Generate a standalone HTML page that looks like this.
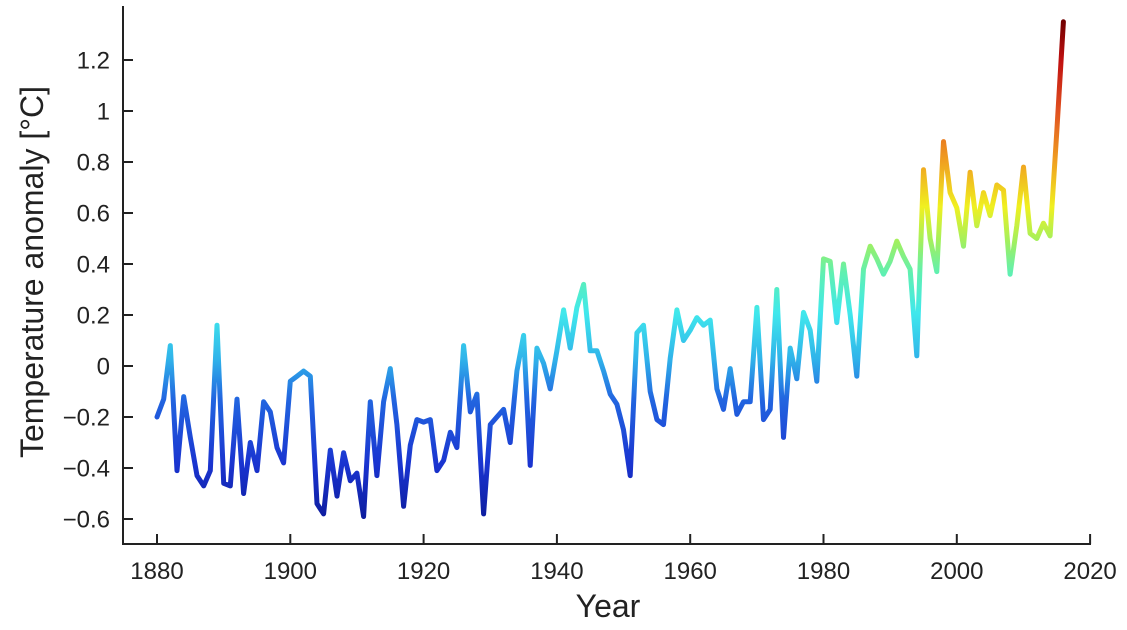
<!DOCTYPE html>
<html><head><meta charset="utf-8"><style>
html,body{margin:0;padding:0;background:#fff;}
svg{display:block;}
text{font-family:"Liberation Sans",Arial,sans-serif;fill:#222;}
</style></head><body>
<svg id="s" width="1127" height="630" viewBox="0 0 1127 630" xmlns="http://www.w3.org/2000/svg">
<defs>
<linearGradient id="g" gradientUnits="userSpaceOnUse" x1="0" y1="525" x2="0" y2="20">
<stop offset="0" stop-color="#0c1a98"/>
<stop offset="0.12" stop-color="#1a34d0"/>
<stop offset="0.25" stop-color="#2266e0"/>
<stop offset="0.33" stop-color="#30b4ea"/>
<stop offset="0.42" stop-color="#40e8ec"/>
<stop offset="0.5" stop-color="#60f0b0"/>
<stop offset="0.56" stop-color="#a0f060"/>
<stop offset="0.63" stop-color="#f0f020"/>
<stop offset="0.72" stop-color="#f0a020"/>
<stop offset="0.82" stop-color="#e05020"/>
<stop offset="0.92" stop-color="#c01010"/>
<stop offset="1" stop-color="#700000"/>
</linearGradient>
</defs>
<g stroke="#222" stroke-width="2" fill="none">
<line x1="123" y1="6" x2="123" y2="545"/>
<line x1="122" y1="544" x2="1091" y2="544"/>
</g>
<g id="ticks" stroke="#222" stroke-width="2"></g>
<g id="labels" font-size="24"></g>
<text x="608" y="617" font-size="32" text-anchor="middle">Year</text>
<text transform="translate(43,272) rotate(-90)" font-size="32" text-anchor="middle">Temperature anomaly [°C]</text>
<polyline id="line" fill="none" stroke="url(#g)" stroke-width="5" stroke-linejoin="round" stroke-linecap="round"/>
</svg>
<script>
var d=[-0.20,-0.13,0.08,-0.41,-0.12,-0.28,-0.43,-0.47,-0.41,0.16,-0.46,-0.47,-0.13,-0.50,-0.30,-0.41,-0.14,-0.18,-0.32,-0.38,
-0.06,-0.04,-0.02,-0.04,-0.54,-0.58,-0.33,-0.51,-0.34,-0.45,-0.42,-0.59,-0.14,-0.43,-0.14,-0.01,-0.23,-0.55,-0.31,-0.21,
-0.22,-0.21,-0.41,-0.37,-0.26,-0.32,0.08,-0.18,-0.11,-0.58,-0.23,-0.20,-0.17,-0.30,-0.02,0.12,-0.39,0.07,0.01,-0.09,
0.06,0.22,0.07,0.23,0.32,0.06,0.06,-0.02,-0.11,-0.15,-0.25,-0.43,0.13,0.16,-0.10,-0.21,-0.23,0.03,0.22,0.10,
0.14,0.19,0.16,0.18,-0.09,-0.17,-0.01,-0.19,-0.14,-0.14,0.23,-0.21,-0.17,0.30,-0.28,0.07,-0.05,0.21,0.14,-0.06,
0.42,0.41,0.17,0.40,0.20,-0.04,0.38,0.47,0.42,0.36,0.41,0.49,0.43,0.38,0.04,0.77,0.50,0.37,0.88,0.68,
0.62,0.47,0.76,0.55,0.68,0.59,0.71,0.69,0.36,0.55,0.78,0.52,0.50,0.56,0.51,0.92,1.35];
function X(y){return 157+(y-1880)*6.665;}
function Y(v){return 366-v*255;}
var p=d.map(function(v,i){return X(1880+i).toFixed(1)+","+Y(v).toFixed(1);}).join(" ");
document.getElementById("line").setAttribute("points",p);
var t="",l="";
for(var yr=1880;yr<=2020;yr+=20){var x=X(yr);t+='<line x1="'+x+'" y1="544" x2="'+x+'" y2="534"/>';l+='<text x="'+x+'" y="579" text-anchor="middle">'+yr+'</text>';}
var ys=[-0.6,-0.4,-0.2,0,0.2,0.4,0.6,0.8,1,1.2];
ys.forEach(function(v){var y=Y(v);t+='<line x1="123" y1="'+y+'" x2="133" y2="'+y+'"/>';
var s=(v===0||v===1)?String(v):(v<0?"\u2212"+Math.abs(v).toFixed(1):v.toFixed(1));
l+='<text x="110" y="'+(y+8.5)+'" text-anchor="end">'+s+'</text>';});
document.getElementById("ticks").innerHTML=t;
document.getElementById("labels").innerHTML=l;
</script>
</body></html>
